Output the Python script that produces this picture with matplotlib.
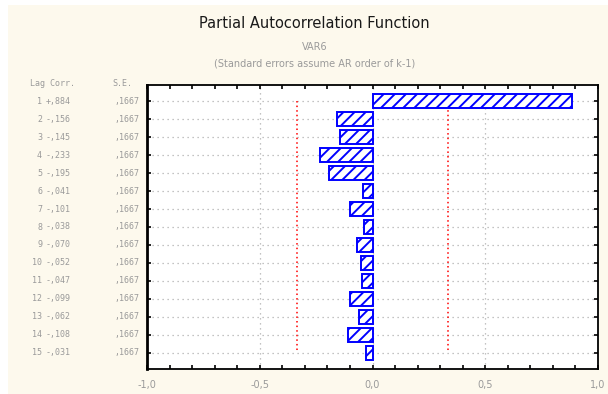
import matplotlib.pyplot as plt
from matplotlib.patches import Rectangle
from matplotlib.ticker import MultipleLocator
import matplotlib.transforms as mtransforms

# PACF values
lags = [1, 2, 3, 4, 5, 6, 7, 8, 9, 10, 11, 12, 13, 14, 15]
pacf = [0.884, -0.156, -0.145, -0.233, -0.195, -0.041, -0.101, -0.038,
        -0.070, -0.052, -0.047, -0.099, -0.062, -0.108, -0.031]
std_err = [0.1667, 0.1667, 0.1667, 0.1667, 0.1667, 0.1667, 0.1667, 0.1667,
           0.1667, 0.1667, 0.1667, 0.1667, 0.1667, 0.1667, 0.1667]
x_ticks = [-1.0, -0.5, 0.0, 0.5, 1.0]
x_labels = ['-1,0', '-0,5', '0,0', '0,5', '1,0']

cream = '#fdf9ed'
gray_txt = '#9a9a9a'
W, H = 608, 394

plt.rcParams['hatch.linewidth'] = 1.4

fig = plt.figure(figsize=(W / 100, H / 100), dpi=100, facecolor='white')
# cream panel, leaving a thin white strip at left and top
fig.patches.append(Rectangle((8 / W, 0), 1 - 8 / W, 1 - 5 / H,
                             transform=fig.transFigure, facecolor=cream,
                             edgecolor='none', zorder=-10))

ax = fig.add_axes([147 / W, 1 - 369 / H, (598 - 147) / W, (369 - 85) / H])
ax.set_facecolor('white')

ax.barh(lags, pacf, height=0.8, color='white', edgecolor='#0000ff',
        hatch='///', linewidth=1.4, zorder=3)

# +/- 2 standard errors
ax.plot([2 * s for s in std_err], lags, color='red', linestyle=(0, (1, 2)),
        linewidth=1.1, zorder=2)
ax.plot([-2 * s for s in std_err], lags, color='red', linestyle=(0, (1, 2)),
        linewidth=1.1, zorder=2)

ax.set_xlim(-1.0, 1.0)
ax.set_ylim(15.89, 0.11)
ax.set_xticks(x_ticks)
ax.set_xticklabels(x_labels, color=gray_txt, fontsize=7)
ax.xaxis.set_minor_locator(MultipleLocator(0.1))
ax.set_yticks(lags)
ax.set_yticklabels([])

ax.tick_params(axis='x', which='both', direction='in', top=True, bottom=True,
               length=3, width=1.2, pad=8)
ax.tick_params(axis='y', direction='in', left=True, right=True, length=3,
               width=1.2)

for y in lags:
    ax.axhline(y, color='#b0b0b0', linestyle=(0, (1, 3)), linewidth=0.9, zorder=1)
for x in [-0.5, 0.0, 0.5]:
    ax.axvline(x, color='#b0b0b0', linestyle=(0, (1, 3)), linewidth=0.9, zorder=1)

for sp in ax.spines.values():
    sp.set_linewidth(1.3)
    sp.set_color('black')
ax.spines['left'].set_linewidth(2.0)

# table of lag / corr / S.E. on the left
trans = mtransforms.blended_transform_factory(fig.transFigure, ax.transData)
mono = dict(family='DejaVu Sans Mono', fontsize=6, color=gray_txt, va='center')
ax.text(30 / W, 1 - 84 / H, 'Lag Corr.', transform=fig.transFigure, **mono)
ax.text(112 / W, 1 - 84 / H, 'S.E.', transform=fig.transFigure, **mono)
for lag, r, s in zip(lags, pacf, std_err):
    corr = ('+' if r >= 0 else '-') + ',' + f'{abs(r):.3f}'[2:]
    ax.text(42 / W, lag, str(lag), transform=trans, ha='right', **mono)
    ax.text(46 / W, lag, corr, transform=trans, ha='left', **mono)
    ax.text(139 / W, lag, ',' + f'{s:.4f}'[2:], transform=trans, ha='right', **mono)

fig.text(314 / W, 1 - 23 / H, 'Partial Autocorrelation Function',
         ha='center', va='center', fontsize=10.5, color='#1a1a1a')
fig.text(315 / W, 1 - 47 / H, 'VAR6', ha='center', va='center',
         fontsize=7, color=gray_txt)
fig.text(315 / W, 1 - 63 / H, '(Standard errors assume AR order of k-1)',
         ha='center', va='center', fontsize=7, color=gray_txt)

fig.savefig('out.png', dpi=100, facecolor=fig.get_facecolor())
